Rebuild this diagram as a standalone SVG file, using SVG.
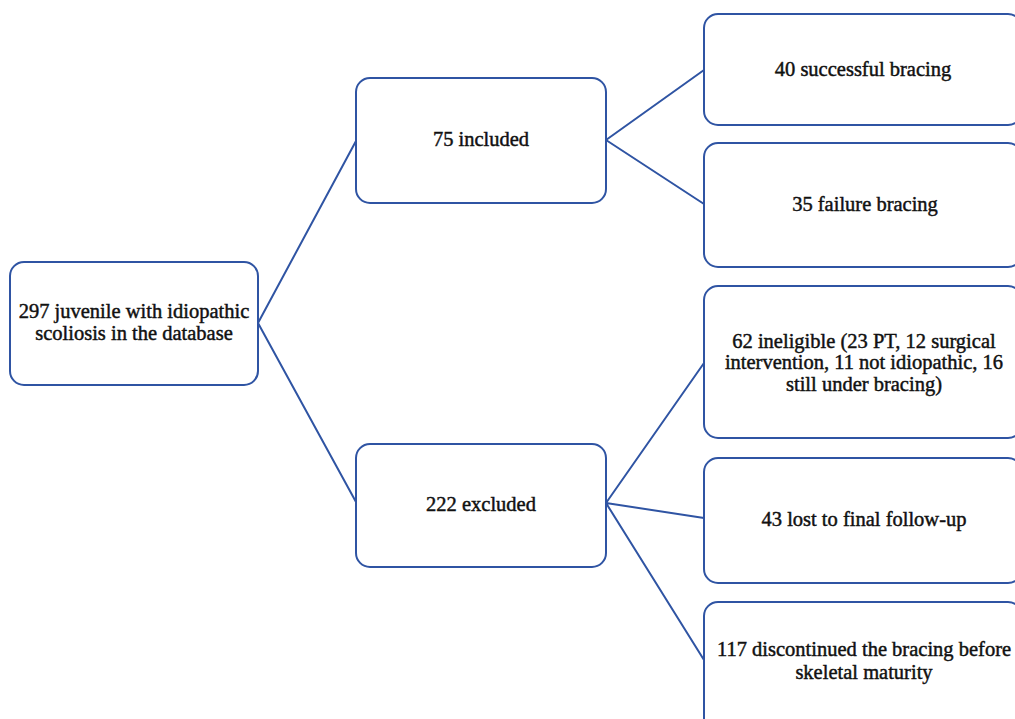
<svg xmlns="http://www.w3.org/2000/svg" width="1015" height="719" viewBox="0 0 1015 719">
<style>
.box{fill:#fff;stroke:#2f54a3;stroke-width:2}
.con{fill:none;stroke:#2f54a3;stroke-width:2}
.t{font-family:"Liberation Serif","Times New Roman",serif;font-size:20.5px;fill:#111;text-anchor:middle;stroke:#111;stroke-width:0.45}
</style>
<rect width="1015" height="719" fill="#fff"/>
<g id="connectors">
<path class="con" d="M258,323 L356,141 M258,323 L356,502"/>
<path class="con" d="M606,140 L704,70 M606,140 L704,204"/>
<path class="con" d="M606,503 L704,363 M606,503 L704,518 M606,503 L704,660"/>
</g>
<g id="root">
<rect class="box" x="10" y="262" width="248" height="123" rx="14"/>
<text class="t" x="134" y="318">297 juvenile with idiopathic</text>
<text class="t" x="134" y="340">scoliosis in the database</text>
</g>
<g id="included">
<rect class="box" x="356" y="78" width="250" height="125" rx="14"/>
<text class="t" x="481" y="146">75 included</text>
</g>
<g id="excluded">
<rect class="box" x="356" y="444" width="250" height="123" rx="14"/>
<text class="t" x="481" y="511">222 excluded</text>
</g>
<g id="successful">
<rect class="box" x="704" y="14" width="318" height="111" rx="14"/>
<text class="t" x="863" y="76">40 successful bracing</text>
</g>
<g id="failure">
<rect class="box" x="704" y="143" width="318" height="124" rx="14"/>
<text class="t" x="865" y="211">35 failure bracing</text>
</g>
<g id="ineligible">
<rect class="box" x="704" y="286" width="318" height="152" rx="14"/>
<text class="t" x="864" y="348">62 ineligible (23 PT, 12 surgical</text>
<text class="t" x="864" y="369">intervention, 11 not idiopathic, 16</text>
<text class="t" x="864" y="391">still under bracing)</text>
</g>
<g id="lost">
<rect class="box" x="704" y="458" width="318" height="125" rx="14"/>
<text class="t" x="864" y="526">43 lost to final follow-up</text>
</g>
<g id="discontinued">
<rect class="box" x="704" y="602" width="318" height="140" rx="14"/>
<text class="t" x="864" y="656">117 discontinued the bracing before</text>
<text class="t" x="864" y="679">skeletal maturity</text>
</g>
</svg>
